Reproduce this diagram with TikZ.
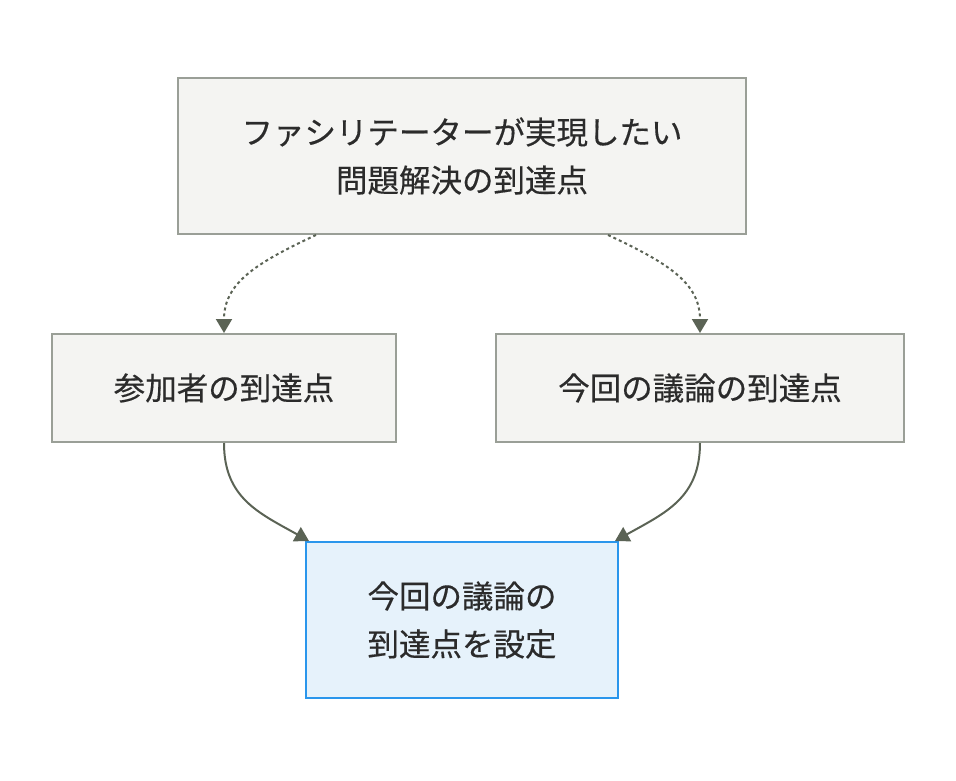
\documentclass[tikz,border=0pt]{standalone}
\usepackage{fontspec}
\newfontfamily\jpfont[FakeBold=0.4]{Noto Sans CJK JP}
\usetikzlibrary{arrows.meta,calc}
\usepackage[dvipsnames]{xcolor}
\definecolor{boxfill}{HTML}{F4F4F2}
\definecolor{boxline}{HTML}{9A9F97}
\definecolor{goalfill}{HTML}{E6F2FB}
\definecolor{goalline}{HTML}{2A96EC}
\definecolor{linkline}{HTML}{5B6355}
\definecolor{txt}{HTML}{2B2B2B}

\begin{document}
\begin{tikzpicture}[x=1pt,y=-1pt,
		every node/.style = {font=\jpfont\fontsize{31.5}{48}\selectfont, text=txt, align=center, inner sep=0pt},
		goalbox/.style = {draw=boxline, fill=boxfill, line width=2pt, minimum height=108pt},
		setbox/.style = {draw=goalline, fill=goalfill, line width=2pt},
		link/.style = {draw=linkline, line width=2pt, -{Triangle[length=14pt,width=16pt]}},
		hint/.style = {link, dash pattern=on 3pt off 3pt}
		]
		\useasboundingbox (0,0) rectangle (956,780);
		% facilitator goal
		\node[goalbox, minimum width=568pt, minimum height=156pt] (top) at (462,156)
			{ファシリテーターが実現したい\\問題解決の到達点};
		% the two goals
		\node[goalbox, minimum width=344pt] (part) at (224,388) {参加者の到達点};
		\node[goalbox, minimum width=408pt] (disc) at (700,388) {今回の議論の到達点};
		% result
		\node[setbox, minimum width=312pt, minimum height=156pt] (set) at (462,620)
			{今回の議論の\\到達点を設定};

		\draw[hint] ([xshift=-146pt]top.south) .. controls +(-60,28) and +(0,-50) .. (part.north);
		\draw[hint] ([xshift=146pt]top.south) .. controls +(60,28) and +(0,-50) .. (disc.north);
		\draw[link] (part.south) .. controls +(0,55) and +(-50,-28) .. ([xshift=4pt]set.north west);
		\draw[link] (disc.south) .. controls +(0,55) and +(50,-28) .. ([xshift=-4pt]set.north east);
	\end{tikzpicture}
\end{document}
